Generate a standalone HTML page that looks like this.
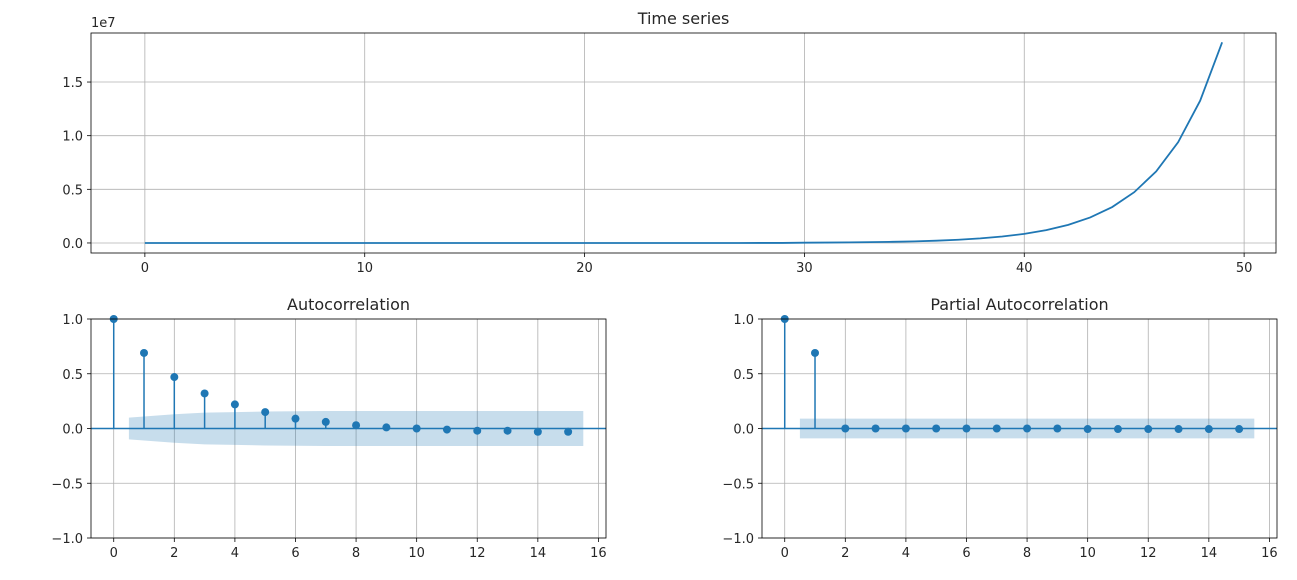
<!DOCTYPE html>
<html><head><meta charset="utf-8"><style>
html,body{margin:0;padding:0;background:#fff;}
svg{display:block;font-family:"DejaVu Sans","Liberation Sans",sans-serif;}
</style></head><body>
<svg id="fig" width="1297" height="580" viewBox="0 0 1297 580" xmlns="http://www.w3.org/2000/svg"></svg>
<script>
const tsValues=[0,0,0,0,0,0,0,0,0,0,0,0,0,0,0,0,0,0,0,0,0,0,0,0,0,0,0,0,1000,2000,27000,38000,54000,77000,108000,152000,214000,302000,426000,601000,848000,1200000,1690000,2380000,3350000,4730000,6670000,9400000,13260000,18700000];
const tsXTicks=[0,10,20,30,40,50];
const tsYTicks=[0,5000000,10000000,15000000];
const acfValues=[1,0.69,0.47,0.32,0.22,0.15,0.09,0.06,0.03,0.01,0.0,-0.01,-0.02,-0.02,-0.03,-0.03];
const acfConf=[0.10,0.10,0.13,0.145,0.15,0.155,0.158,0.16,0.16,0.16,0.16,0.16,0.16,0.16,0.16,0.16];
const pacfValues=[1,0.69,0,0,0,0,0,0,0,0,-0.005,-0.005,-0.005,-0.005,-0.005,-0.005];
const pacfConf=[0.09,0.09,0.09,0.09,0.09,0.09,0.09,0.09,0.09,0.09,0.09,0.09,0.09,0.09,0.09,0.09];
const lagTicks=[0,2,4,6,8,10,12,14,16];
const corrTicks=[-1.0,-0.5,0.0,0.5,1.0];

const svg=document.getElementById('fig');
const NS='http://www.w3.org/2000/svg';
const BLUE='#1f77b4';
function el(tag,attrs,parent){const e=document.createElementNS(NS,tag);for(const k in attrs)e.setAttribute(k,attrs[k]);(parent||svg).appendChild(e);return e;}
function txt(s,x,y,anchor,size,parent){const t=el('text',{x:x,y:y,'text-anchor':anchor,'font-size':size,fill:'#262626'},parent);t.textContent=s;return t;}

function axes(name,L,R,T,B,xmin,xmax,ymin,ymax){
  const g=el('g',{});
  
  
  const sx=v=>L+(v-xmin)/(xmax-xmin)*(R-L);
  const sy=v=>B-(v-ymin)/(ymax-ymin)*(B-T);
  return {g,sx,sy,L,R,T,B};
}
function frame(a,xt,yt,xfmt,yfmt,title){
  const gx=el('g',{},a.g);
  
  
  xt.forEach(v=>{const x=a.sx(v);el('line',{x1:x,x2:x,y1:a.T,y2:a.B,stroke:'#b0b0b0','stroke-width':0.8},gx);
    el('line',{x1:x,x2:x,y1:a.B,y2:a.B+4,stroke:'#000','stroke-width':0.8},a.g);
    const t=txt(xfmt(v),x,a.B+19,'middle',13,a.g);
    
    });
  yt.forEach(v=>{const y=a.sy(v);el('line',{x1:a.L,x2:a.R,y1:y,y2:y,stroke:'#b0b0b0','stroke-width':0.8},gx);
    el('line',{x1:a.L-4,x2:a.L,y1:y,y2:y,stroke:'#000','stroke-width':0.8},a.g);
    const t=txt(yfmt(v),a.L-8,y+5,'end',13,a.g);
    
    });
  const tt=txt(title,(a.L+a.R)/2,a.T-9,'middle',16,a.g);
  
  
}
function border(a){el('rect',{x:a.L,y:a.T,width:a.R-a.L,height:a.B-a.T,fill:'none',stroke:'#000','stroke-width':0.8},a.g);}

// Time series
const ts=axes('time-series-panel',91,1276,33,253,-2.45,51.45,-935000,19570000);
frame(ts,tsXTicks,tsYTicks,v=>String(v),v=>(v/1e7).toFixed(1),'Time series');
const path=tsValues.map((v,i)=>(i?'L':'M')+ts.sx(i).toFixed(2)+','+ts.sy(v).toFixed(2)).join(' ');
const line=el('path',{d:path,fill:'none',stroke:BLUE,'stroke-width':1.8},ts.g);


border(ts);
const off=txt('1e7',91,27,'start',13,ts.g);



function corrPanel(name,L,R,vals,conf,title){
  const a=axes(name,L,R,319,538,-0.75,16.25,-1,1);
  frame(a,lagTicks,corrTicks,v=>String(v),v=>v.toFixed(1).replace('-','\u2212'),title);
  let up=[],dn=[];
  for(let i=1;i<conf.length;i++){up.push([i,conf[i]]);dn.push([i,-conf[i]]);}
  up[0]=[0.5,conf[0]];dn[0]=[0.5,-conf[0]];
  up.push([15.5,conf[conf.length-1]]);dn.push([15.5,-conf[conf.length-1]]);
  const pts=up.concat(dn.reverse()).map(p=>a.sx(p[0]).toFixed(1)+','+a.sy(p[1]).toFixed(1)).join(' ');
  const band=el('polygon',{points:pts,fill:BLUE,'fill-opacity':0.25,stroke:'none'},a.g);
  
  
  const base=el('line',{x1:a.L,x2:a.R,y1:a.sy(0),y2:a.sy(0),stroke:BLUE,'stroke-width':1.5},a.g);
  
  
  vals.forEach((v,i)=>{
    const s=el('line',{x1:a.sx(i),x2:a.sx(i),y1:a.sy(0),y2:a.sy(v),stroke:BLUE,'stroke-width':1.5},a.g);
    
    
    const c=el('circle',{cx:a.sx(i),cy:a.sy(v),r:4,fill:BLUE},a.g);
    
    
  });
  border(a);
}
corrPanel('autocorrelation-panel',91,606,acfValues,acfConf,'Autocorrelation');
corrPanel('partial-autocorrelation-panel',762,1277,pacfValues,pacfConf,'Partial Autocorrelation');
</script>
</body></html>
